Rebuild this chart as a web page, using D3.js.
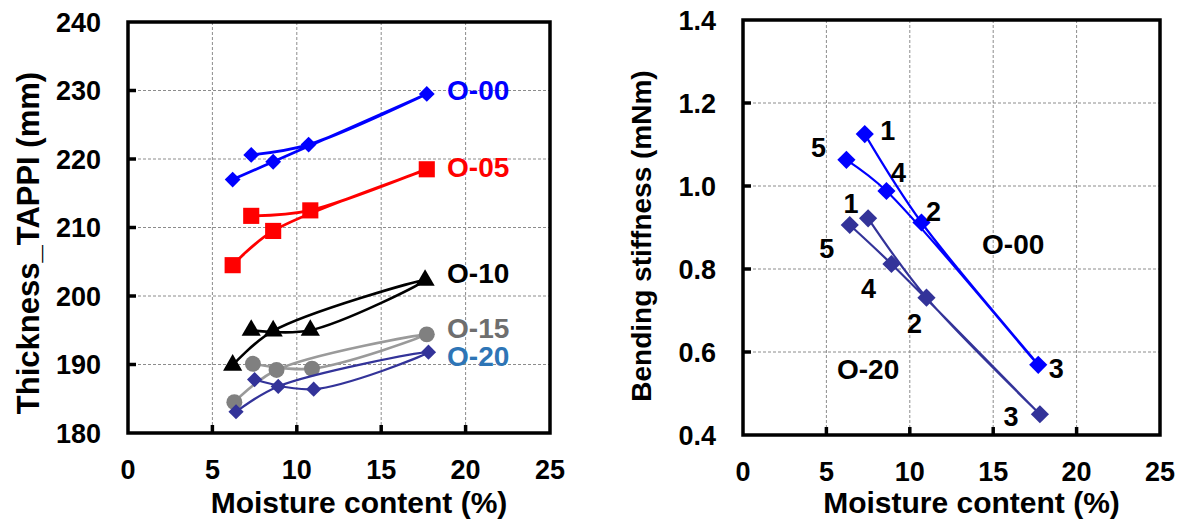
<!DOCTYPE html>
<html>
<head>
<meta charset="utf-8">
<script src="https://cdn.jsdelivr.net/npm/d3@7/dist/d3.min.js"></script>
<style>
  body { margin: 0; background: #fff; }
  text { font-family: "Liberation Sans", Arial, sans-serif; font-weight: bold; }
</style>
</head>
<body>
<svg id="chart" width="1183" height="520"></svg>
<script>
// measurement runs 1..5 (order the points were joined in)
const runs = ['1', '2', '3', '4', '5'];

// moisture content (%) for each sample
const moistO00 = [7.3, 10.7, 17.7, 8.6, 6.2];
const moistO05 = [7.3, 10.8, 17.7, 8.6, 6.2];
const moistO10 = [7.3, 10.8, 17.6, 8.6, 6.2];
const moistO15 = [7.4, 10.9, 17.7, 8.8, 6.3];
const moistO20 = [7.5, 11.0, 17.8, 8.9, 6.4];

// thickness TAPPI
const thickO00 = [220.6, 222.1, 229.5, 219.6, 217.0];
const thickO05 = [211.7, 212.5, 218.5, 209.5, 204.5];
const thickO10 = [195.0, 195.0, 202.3, 194.9, 189.9];
const thickO15 = [190.1, 189.4, 194.4, 189.2, 184.5];
const thickO20 = [187.8, 186.4, 191.8, 186.8, 183.1];

// bending stiffness (mNm)
const bendO00 = [1.125, 0.912, 0.569, 0.988, 1.063];
const bendO20 = [0.922, 0.731, 0.450, 0.812, 0.906];

const xTicks      = [0, 5, 10, 15, 20, 25];
const thickTicks  = [180, 190, 200, 210, 220, 230, 240];
const bendTicks   = [0.4, 0.6, 0.8, 1.0, 1.2, 1.4];

const svg = d3.select('#chart');

// draws frame, grid, ticks and labels of one panel
function panel(box, yDomain, yTicks, yFmt, yTitle, yTitleX, yTitleY, yTitleSize) {
  const x = d3.scaleLinear().domain([0, 25]).range([box.x0, box.x1]);
  const y = d3.scaleLinear().domain(yDomain).range([box.y1, box.y0]);
  const g = svg.append('g');

  // dashed grid
  g.selectAll('.vg').data(xTicks.slice(1, -1)).enter().append('line')
    .attr('x1', d => x(d)).attr('x2', d => x(d))
    .attr('y1', box.y0).attr('y2', box.y1)
    .attr('stroke', '#8c8c8c').attr('stroke-width', 1).attr('stroke-dasharray', '3,2');
  g.selectAll('.hg').data(yTicks.slice(1, -1)).enter().append('line')
    .attr('x1', box.x0).attr('x2', box.x1)
    .attr('y1', d => y(d)).attr('y2', d => y(d))
    .attr('stroke', '#8c8c8c').attr('stroke-width', 1).attr('stroke-dasharray', '3,2');

  // inward ticks
  g.selectAll('.xt').data(xTicks.slice(1, -1)).enter().append('line')
    .attr('x1', d => x(d)).attr('x2', d => x(d))
    .attr('y1', box.y1).attr('y2', box.y1 - 8)
    .attr('stroke', '#000').attr('stroke-width', 3.5);
  g.selectAll('.yt').data(yTicks.slice(1, -1)).enter().append('line')
    .attr('x1', box.x0).attr('x2', box.x0 + 8)
    .attr('y1', d => y(d)).attr('y2', d => y(d))
    .attr('stroke', '#000').attr('stroke-width', 3.5);

  g.append('rect')
    .attr('x', box.x0).attr('y', box.y0)
    .attr('width', box.x1 - box.x0).attr('height', box.y1 - box.y0)
    .attr('fill', 'none').attr('stroke', '#000').attr('stroke-width', 3.5);

  // tick labels
  g.selectAll('.xl').data(xTicks).enter().append('text')
    .attr('x', d => x(d)).attr('y', box.y1 + 46)
    .attr('text-anchor', 'middle').style('font-size', '27px')
    .text(d => d);
  g.selectAll('.yl').data(yTicks).enter().append('text')
    .attr('x', box.x0 - 27).attr('y', d => y(d)).attr('dy', '0.36em')
    .attr('text-anchor', 'end').style('font-size', '27px')
    .text(yFmt);

  // titles
  g.append('text')
    .attr('x', (box.x0 + box.x1) / 2 + 20).attr('y', 513)
    .attr('text-anchor', 'middle').style('font-size', '30px')
    .text('Moisture content (%)');
  g.append('text')
    .attr('transform', `translate(${yTitleX},${yTitleY}) rotate(-90)`)
    .attr('text-anchor', 'middle').attr('dy', '0.36em').style('font-size', yTitleSize)
    .text(yTitle);

  return { x, y };
}

function series(sc, xs, ys, opt) {
  const pts = xs.map((v, i) => ({ x: v, y: ys[i], run: runs[i] }));
  const line = d3.line()
    .x(d => sc.x(d.x)).y(d => sc.y(d.y))
    .curve(d3.curveCatmullRom.alpha(0.5));
  svg.append('path').datum(pts)
    .attr('d', line)
    .attr('fill', 'none').attr('stroke', opt.line || opt.color).attr('stroke-width', opt.lw || 2.5);

  const sym = d3.symbol().type(opt.type).size(opt.size);
  svg.append('g').selectAll('path').data(pts).enter().append('path')
    .attr('d', sym)
    .attr('transform', d => `translate(${sc.x(d.x)},${sc.y(d.y)}) rotate(${opt.rot || 0})`)
    .attr('fill', opt.color);
  return pts;
}

// ---- left panel: thickness ----
const L = panel({ x0: 128, x1: 550, y0: 22, y1: 433 }, [180, 240], thickTicks, d => d,
  'Thickness_TAPPI (mm)', 28, 243, '31px');

series(L, moistO00, thickO00, { color: '#0000ff', type: d3.symbolSquare, size: 125, rot: 45, lw: 2.8 });
series(L, moistO05, thickO05, { color: '#ff0000', type: d3.symbolSquare, size: 260, lw: 2.8 });
series(L, moistO10, thickO10, { color: '#000000', type: d3.symbolTriangle, size: 160, lw: 2.6 });
series(L, moistO15, thickO15, { color: '#808080', line: '#9a9a9a', type: d3.symbolCircle, size: 200, lw: 2.6 });
series(L, moistO20, thickO20, { color: '#333399', type: d3.symbolSquare, size: 115, rot: 45, lw: 2.2 });

const leftNames  = ['O-00', 'O-05', 'O-10', 'O-15', 'O-20'];
const leftColors = ['#0000ff', '#ff0000', '#000000', '#6e6e6e', '#2e75b6'];
const leftLabelY = [230.1, 218.8, 203.3, 195.3, 191.2];
svg.append('g').selectAll('text').data(leftNames).enter().append('text')
  .attr('x', L.x(18.9)).attr('y', (d, i) => L.y(leftLabelY[i])).attr('dy', '0.36em')
  .style('font-size', '28px').attr('fill', (d, i) => leftColors[i])
  .text(d => d);

// ---- right panel: bending stiffness ----
const R = panel({ x0: 743, x1: 1160, y0: 20, y1: 435 }, [0.4, 1.4], bendTicks, d => d.toFixed(1),
  'Bending stiffness (mNm)', 641, 236, '28px');

const p00 = series(R, moistO00, bendO00, { color: '#0000ff', type: d3.symbolSquare, size: 165, rot: 45, lw: 2.2 });
const p20 = series(R, moistO20, bendO20, { color: '#333399', type: d3.symbolSquare, size: 165, rot: 45, lw: 2.2 });

// run number labels, offset from each marker
const off00 = [[23, -4], [12, -11], [18, 3], [12, -19], [-28, -13]];
const off20 = [[-17, -15], [-12, 26], [-29, 2], [-23, 24], [-23, 23]];
function runLabels(pts, off) {
  svg.append('g').selectAll('text').data(pts).enter().append('text')
    .attr('x', (d, i) => R.x(d.x) + off[i][0])
    .attr('y', (d, i) => R.y(d.y) + off[i][1]).attr('dy', '0.36em')
    .attr('text-anchor', 'middle').style('font-size', '27px')
    .text(d => d.run);
}
runLabels(p00, off00);
runLabels(p20, off20);

svg.append('text').attr('x', R.x(16.2)).attr('y', R.y(0.86)).attr('dy', '0.36em')
  .attr('text-anchor', 'middle').style('font-size', '28px').text('O-00');
svg.append('text').attr('x', R.x(7.5)).attr('y', R.y(0.56)).attr('dy', '0.36em')
  .attr('text-anchor', 'middle').style('font-size', '28px').text('O-20');
</script>
</body>
</html>
